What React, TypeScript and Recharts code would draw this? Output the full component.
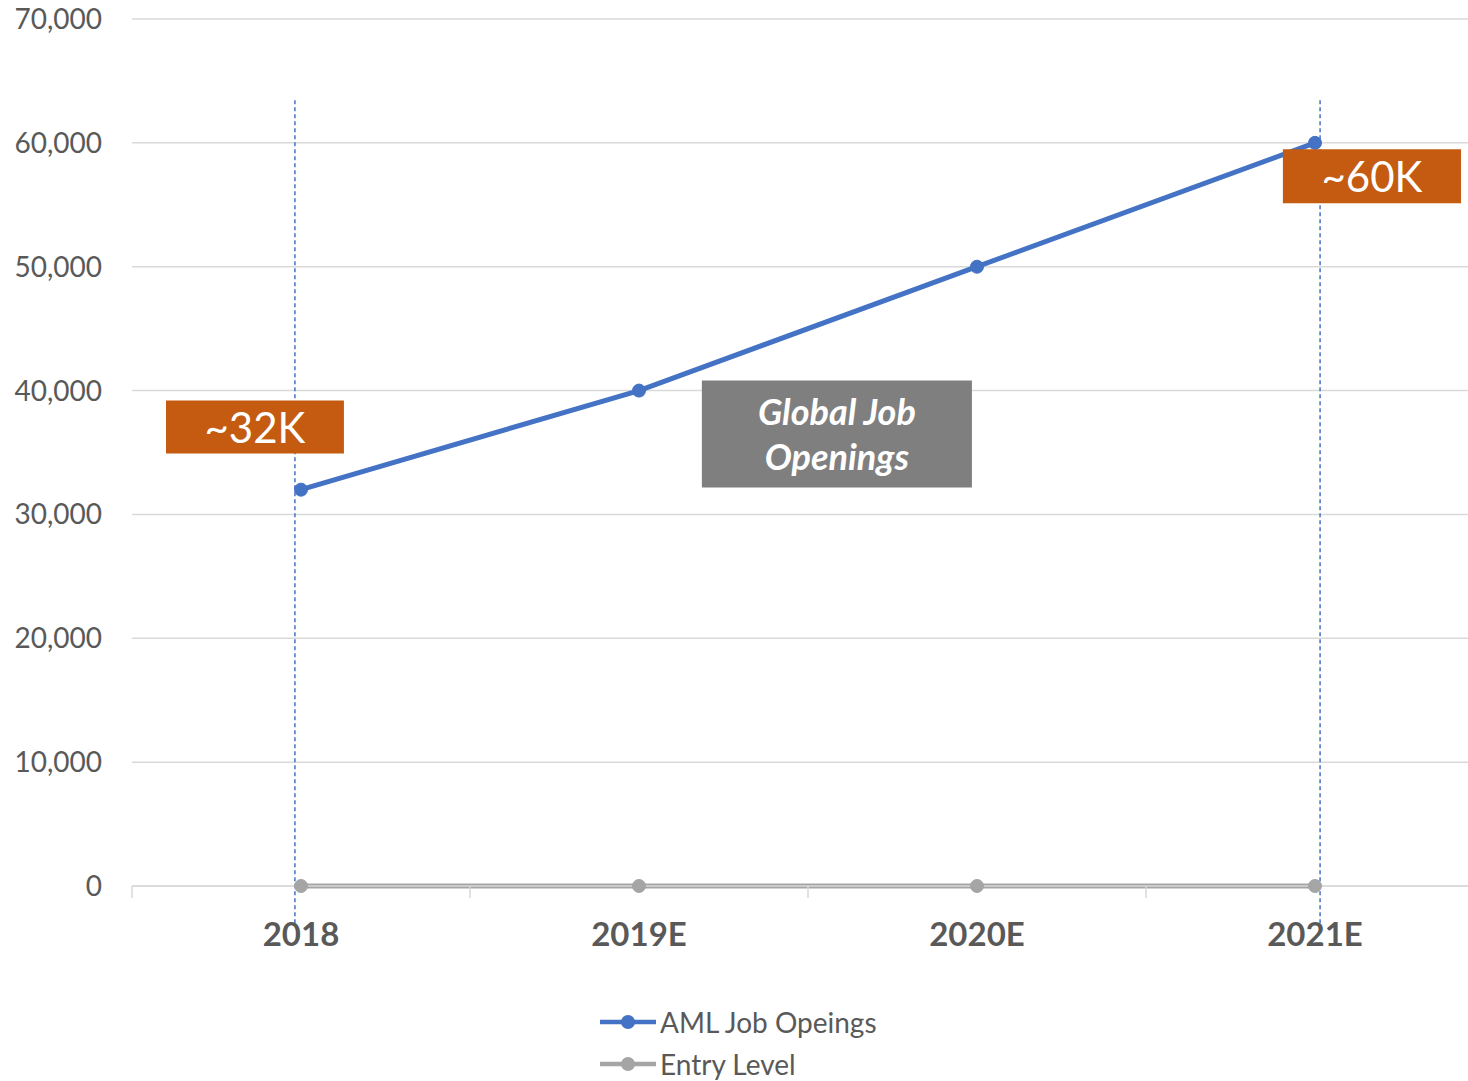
import React from "react";
import {
  LineChart,
  Line,
  XAxis,
  YAxis,
  CartesianGrid,
  ReferenceLine,
  ReferenceArea,
  Legend,
} from "recharts";

const categories = ["2018", "2019E", "2020E", "2021E"];
const amlJobOpenings = [32000, 40000, 50000, 60000];
const entryLevel = [0, 0, 0, 0];
const yTicks = [0, 10000, 20000, 30000, 40000, 50000, 60000, 70000];

const data = categories.map((c, i) => ({
  year: c,
  aml: amlJobOpenings[i],
  entry: entryLevel[i],
  pos: i + 0.5,
}));

const FONT = "Lato, 'Open Sans', sans-serif";
const TEXT = "#595959";
const BLUE = "#4472c4";
const GREY = "#a5a5a5";
const ORANGE = "#c55a11";

const CHART_W = 1484;
const CHART_H = 1081;
const PLOT_LEFT = 132;
const BAND = (CHART_W - PLOT_LEFT) / categories.length;

const XTick = (props: any) => {
  const { x, y, payload, index } = props;
  const isLast = index === categories.length - 1;
  return (
    <g>
      <line x1={x - BAND / 2} x2={x - BAND / 2} y1={y} y2={y + 12} stroke="#d9d9d9" strokeWidth={1.5} />
      {isLast && (
        <line x1={x + BAND / 2} x2={x + BAND / 2} y1={y} y2={y + 12} stroke="#d9d9d9" strokeWidth={1.5} />
      )}
      <text
        x={x}
        y={y + 60}
        textAnchor="middle"
        fill={TEXT}
        fontFamily={FONT}
        fontWeight={700}
        fontSize={33}
      >
        {payload.value}
      </text>
    </g>
  );
};

const BoxLabel = (props: any) => {
  const { viewBox, lines, fontSize, italic } = props;
  const { x, y, width, height } = viewBox;
  const cx = x + width / 2;
  const lh = fontSize * 1.25;
  const startY = y + height / 2 - ((lines.length - 1) * lh) / 2;
  return (
    <text
      textAnchor="middle"
      fill="#ffffff"
      fontFamily={FONT}
      fontSize={fontSize}
      fontWeight={italic ? 700 : 400}
      fontStyle={italic ? "italic" : "normal"}
      dominantBaseline="central"
    >
      {lines.map((l: string, i: number) => (
        <tspan key={i} x={cx} y={startY + i * lh}>
          {l}
        </tspan>
      ))}
    </text>
  );
};

const LegendContent = () => {
  const items = [
    { name: "AML Job Opeings", color: BLUE },
    { name: "Entry Level", color: GREY },
  ];
  return (
    <div style={{ position: "relative", width: 1468, height: 70 }}>
      {items.map((it, i) => (
        <div
          key={it.name}
          style={{
            position: "absolute",
            left: 600,
            top: i * 42,
            display: "flex",
            alignItems: "center",
            height: 30,
          }}
        >
          <svg width={58} height={20}>
            <line x1={0} x2={56} y1={10} y2={10} stroke={it.color} strokeWidth={4.5} />
            <circle cx={28} cy={10} r={7} fill={it.color} />
          </svg>
          <span style={{ fontFamily: FONT, fontSize: 28, lineHeight: 1, color: TEXT, marginLeft: 2, whiteSpace: "nowrap" }}>{it.name}</span>
        </div>
      ))}
    </div>
  );
};

export default function App() {
  return (
    <div style={{ position: "absolute", left: 0, top: 0, width: 1468, height: 1081, overflow: "hidden", background: "#fff" }}>
      <LineChart
        width={CHART_W}
        height={CHART_H}
        data={data}
        margin={{ top: 19, right: 0, bottom: 65, left: 0 }}
      >
        <CartesianGrid horizontal vertical={false} stroke="#d9d9d9" strokeWidth={1.5} />
        <XAxis
          dataKey="year"
          xAxisId="cat"
          scale="band"
          axisLine={{ stroke: "#d9d9d9", strokeWidth: 1.5 }}
          tickLine={false}
          tickSize={0}
          tickMargin={0}
          height={60}
          tick={<XTick />}
          interval={0}
        />
        <XAxis
          xAxisId="num"
          dataKey="pos"
          type="number"
          domain={[0, 4]}
          allowDataOverflow
          hide
        />
        <YAxis
          width={132}
          domain={[0, 70000]}
          ticks={yTicks}
          axisLine={false}
          tickLine={false}
          tickSize={0}
          tickMargin={30}
          interval={0}
          tick={{ fill: TEXT, fontFamily: FONT, fontSize: 28 }}
          tickFormatter={(v: number) => v.toLocaleString("en-US")}
        />
        <ReferenceLine
          xAxisId="num"
          segment={[{ x: 0.482, y: 63450 }, { x: 0.482, y: -3200 }]}
          stroke={BLUE}
          strokeWidth={1.5}
          strokeDasharray="4 3"
          ifOverflow="visible"
          zIndex={300}
        />
        <ReferenceLine
          xAxisId="num"
          segment={[{ x: 3.515, y: 63450 }, { x: 3.515, y: -3200 }]}
          stroke={BLUE}
          strokeWidth={1.5}
          strokeDasharray="4 3"
          ifOverflow="visible"
          zIndex={300}
        />
        <Line
          xAxisId="cat"
          type="linear"
          dataKey="entry"
          name="Entry Level"
          stroke={GREY}
          strokeWidth={5}
          dot={{ r: 6.5, fill: GREY, stroke: GREY, strokeWidth: 1 }}
          isAnimationActive={false}
        />
        <Line
          xAxisId="cat"
          type="linear"
          dataKey="aml"
          name="AML Job Opeings"
          stroke={BLUE}
          strokeWidth={5}
          dot={{ r: 6.5, fill: BLUE, stroke: BLUE, strokeWidth: 1 }}
          isAnimationActive={false}
        />
        <ReferenceArea
          xAxisId="num"
          x1={0.1006}
          x2={0.627}
          y1={34919}
          y2={39203}
          fill={ORANGE}
          fillOpacity={1}
          stroke="none"
          ifOverflow="visible"
          zIndex={1000}
          label={<BoxLabel lines={["~32K"]} fontSize={42} />}
        />
        <ReferenceArea
          xAxisId="num"
          x1={3.405}
          x2={3.932}
          y1={55126}
          y2={59491}
          fill={ORANGE}
          fillOpacity={1}
          stroke="none"
          ifOverflow="visible"
          zIndex={1000}
          label={<BoxLabel lines={["~60K"]} fontSize={42} />}
        />
        <ReferenceArea
          xAxisId="num"
          x1={1.686}
          x2={2.485}
          y1={32170}
          y2={40820}
          fill="#7f7f7f"
          fillOpacity={1}
          stroke="none"
          ifOverflow="visible"
          zIndex={1000}
          label={<BoxLabel lines={["Global Job", "Openings"]} fontSize={36} italic />}
        />
        <Legend
          content={<LegendContent />}
          wrapperStyle={{ position: "absolute", left: 0, top: 1007, width: 1468, height: 70 }}
        />
      </LineChart>
    </div>
  );
}
